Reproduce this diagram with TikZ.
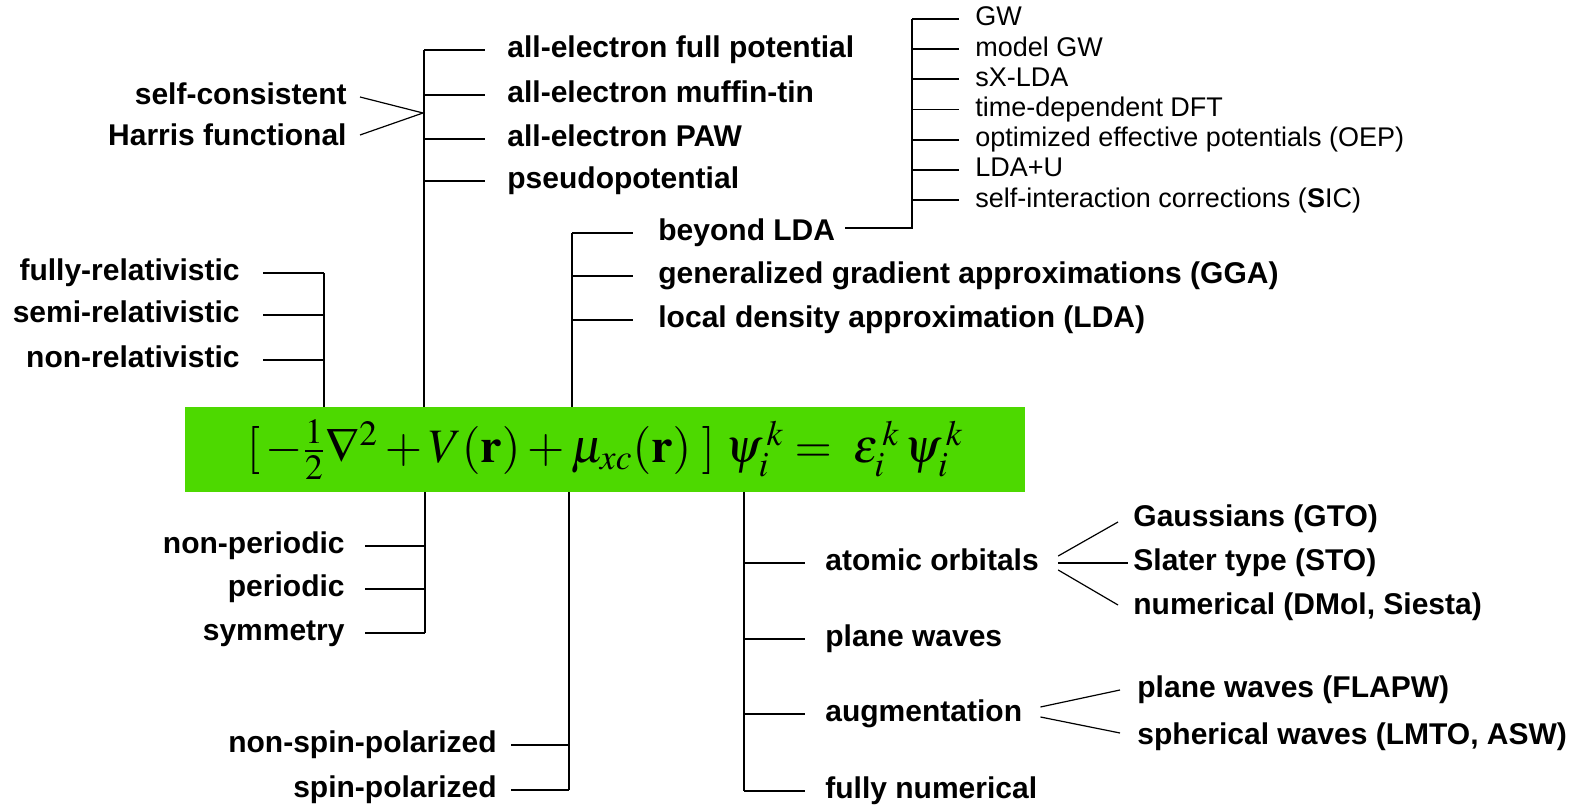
\documentclass[tikz,border=0pt]{standalone}
\usepackage{amsmath}
\usepackage{mathptmx}
\usepackage[no-math]{fontspec}
\setmainfont{Liberation Sans}
\usepackage{tikz}
\definecolor{EqGreen}{RGB}{77,217,0}
\tikzset{
    lbl/.style={font=\fontsize{15}{18}\selectfont\bfseries,inner sep=0pt,text height=7.8pt,text depth=0pt},
    sublbl/.style={font=\fontsize{13.5}{16}\selectfont,inner sep=0pt,text height=7pt,text depth=0pt},
    branch/.style={line width=0.9pt},
    fork/.style={line width=0.6pt}
}
\begin{document}
\begin{tikzpicture}[x=0.5pt,y=-0.5pt]
            \useasboundingbox (0,0) rectangle (1580,806);
            \node[fill=EqGreen,minimum width=420pt,minimum height=42.5pt,inner sep=0pt] (eq) at (605,449.5)
                {\fontsize{24}{28}\selectfont $[\,{-}\tfrac{1}{2}\nabla^{2}+V(\mathbf{r})+\mu_{xc}(\mathbf{r})\;]\;\psi_i^{\,k}=\;\varepsilon_i^{\,k}\,\psi_i^{\,k}$};
            \coordinate (relbus) at (324,0);
            \node[lbl,anchor=east] (rel1) at (240,273) {fully-relativistic};
            \node[lbl,anchor=east] (rel2) at (240,315) {semi-relativistic};
            \node[lbl,anchor=east] (rel3) at (240,360) {non-relativistic};
            \draw[branch] (eq.north -| relbus) -- (rel1 -| relbus);
            \foreach \n in {rel1,rel2,rel3}
                \draw[branch] ([xshift=11.5pt]\n.east) -- (\n -| relbus);
            \coordinate (potbus) at (424,0);
            \node[lbl,anchor=west] (pot1) at (507,50) {all-electron full potential};
            \node[lbl,anchor=west] (pot2) at (507,95) {all-electron muffin-tin};
            \node[lbl,anchor=west] (pot3) at (507,139) {all-electron PAW};
            \node[lbl,anchor=west] (pot4) at (507,181) {pseudopotential};
            \draw[branch] (eq.north -| potbus) -- (pot1 -| potbus);
            \foreach \n in {pot1,pot2,pot3,pot4}
                \draw[branch] (\n -| potbus) -- ([xshift=-11pt]\n.west);
            \node[lbl,anchor=east] (scf) at (347,97) {self-consistent};
            \node[lbl,anchor=east] (harris) at (347,138) {Harris functional};
            \coordinate (potfork) at (423,113);
            \draw[fork] ([xshift=6.5pt]scf.east) -- (potfork) -- ([xshift=6.5pt,yshift=1.5pt]harris.east);
            \coordinate (xcbus) at (572,0);
            \node[lbl,anchor=west] (xc1) at (658,233) {beyond LDA};
            \node[lbl,anchor=west] (xc2) at (658,276) {generalized gradient approximations (GGA)};
            \node[lbl,anchor=west] (xc3) at (658,320) {local density approximation (LDA)};
            \draw[branch] (eq.north -| xcbus) -- (xc1 -| xcbus);
            \foreach \n in {xc1,xc2,xc3}
                \draw[branch] (\n -| xcbus) -- ([xshift=-12.5pt]\n.west);
            \coordinate (gwbus) at (912,0);
            \foreach \t [count=\i from 0] in {GW,model GW,sX-LDA,time-dependent DFT,optimized effective potentials (OEP),LDA+U,self-interaction corrections (\textbf{S}IC)}
                \node[sublbl,anchor=west] (gw\i) at (975,19+30.2*\i) {\t};
            \draw[branch] ([xshift=5pt,yshift=2.5pt]xc1.east) -- ([yshift=2.5pt]xc1.east -| gwbus) -- (gw0 -| gwbus);
            \foreach \i in {0,...,6}
                \draw[branch] (gw\i -| gwbus) -- ([xshift=-8pt]gw\i.west);
            \coordinate (perbus) at (425,0);
            \node[lbl,anchor=east] (per1) at (345,546) {non-periodic};
            \node[lbl,anchor=east] (per2) at (345,589) {periodic};
            \node[lbl,anchor=east] (per3) at (345,633) {symmetry};
            \draw[branch] (eq.south -| perbus) -- (per3 -| perbus);
            \foreach \n in {per1,per2,per3}
                \draw[branch] ([xshift=10pt]\n.east) -- (\n -| perbus);
            \coordinate (spinbus) at (569,0);
            \node[lbl,anchor=east] (spin1) at (497,745) {non-spin-polarized};
            \node[lbl,anchor=east] (spin2) at (497,790) {spin-polarized};
            \draw[branch] (eq.south -| spinbus) -- (spin2 -| spinbus);
            \foreach \n in {spin1,spin2}
                \draw[branch] ([xshift=7pt]\n.east) -- (\n -| spinbus);
            \coordinate (basbus) at (744,0);
            \node[lbl,anchor=west] (bas1) at (825,563) {atomic orbitals};
            \node[lbl,anchor=west] (bas2) at (825,639) {plane waves};
            \node[lbl,anchor=west] (bas3) at (825,714) {augmentation};
            \node[lbl,anchor=west] (bas4) at (825,791) {fully numerical};
            \draw[branch] (eq.south -| basbus) -- (bas4 -| basbus);
            \foreach \n in {bas1,bas2,bas3,bas4}
                \draw[branch] (\n -| basbus) -- ([xshift=-10pt]\n.west);
            \node[lbl,anchor=west] (ao1) at (1133,519) {Gaussians (GTO)};
            \node[lbl,anchor=west] (ao2) at (1133,563) {Slater type (STO)};
            \node[lbl,anchor=west] (ao3) at (1133,607) {numerical (DMol, Siesta)};
            \draw[fork] ([xshift=9.5pt,yshift=3.5pt]bas1.east) -- ([xshift=-7.5pt,yshift=-1.5pt]ao1.west);
            \draw[fork] ([xshift=9.5pt]bas1.east) -- ([xshift=-2.5pt]ao2.west);
            \draw[fork] ([xshift=9.5pt,yshift=-3.5pt]bas1.east) -- ([xshift=-7.5pt,yshift=1pt]ao3.west);
            \node[lbl,anchor=west] (aug1) at (1137,690) {plane waves (FLAPW)};
            \node[lbl,anchor=west] (aug2) at (1137,737) {spherical waves (LMTO, ASW)};
            \draw[fork] ([xshift=9pt,yshift=3.5pt]bas3.east) -- ([xshift=-8.5pt]aug1.west);
            \draw[fork] ([xshift=9pt,yshift=-1.5pt]bas3.east) -- ([xshift=-8.5pt,yshift=2pt]aug2.west);
        \end{tikzpicture}
\end{document}
